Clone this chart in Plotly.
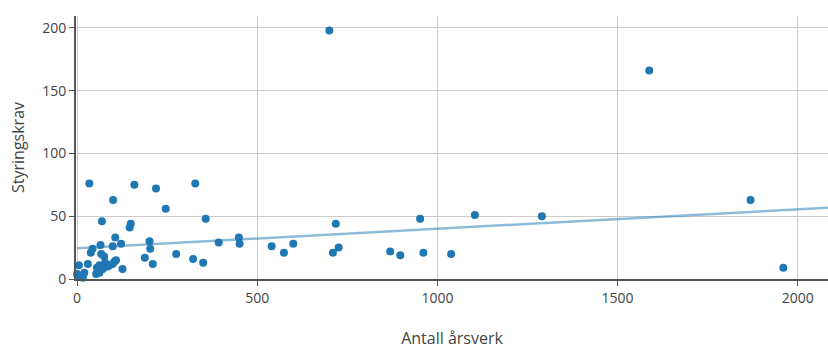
import plotly.graph_objects as go

# Antall årsverk (x) og styringskrav (y) per virksomhet
arsverk = [0, 2, 5, 16, 20, 30, 34, 38, 43, 53, 55, 57, 62, 62, 65, 67, 69, 71, 75, 78,
           85, 90, 99, 99, 100, 104, 106, 108, 122, 126, 146, 149, 159, 188, 201, 203,
           210, 219, 246, 275, 322, 328, 350, 357, 393, 449, 451, 540, 574, 600, 700,
           710, 718, 726, 869, 897, 952, 961, 1038, 1104, 1290, 1588, 1869, 1960]
styringskrav = [4, 3, 11, 1, 5, 12, 76, 21, 24, 4, 9, 6, 5, 11, 27, 20, 46, 8, 18, 13,
                10, 11, 12, 26, 63, 14, 33, 15, 28, 8, 41, 44, 75, 17, 30, 24,
                12, 72, 56, 20, 16, 76, 13, 48, 29, 33, 28, 26, 21, 28, 198,
                21, 44, 25, 22, 19, 48, 21, 20, 51, 50, 166, 63, 9]

# Lineær trendlinje
trend_intercept = 24.5
trend_slope = 0.0155
trend_x = [0, 2100]
trend_y = [trend_intercept + trend_slope * v for v in trend_x]

x_ticks = [0, 500, 1000, 1500, 2000]
y_ticks = [0, 50, 100, 150, 200]

fig = go.Figure()
fig.add_trace(go.Scatter(
    x=trend_x, y=trend_y, mode="lines",
    line=dict(color="rgba(31,119,180,0.5)", width=2.5),
    hoverinfo="skip", showlegend=False,
))
fig.add_trace(go.Scatter(
    x=arsverk, y=styringskrav, mode="markers",
    marker=dict(color="#1f77b4", size=8),
    cliponaxis=False, showlegend=False,
))

axis_common = dict(
    showgrid=True, gridcolor="#cccccc", gridwidth=1,
    zeroline=False, showline=True, linecolor="#555555", linewidth=2,
    ticks="outside", ticklen=5, tickcolor="#555555", tickwidth=1,
    tickfont=dict(size=14, color="#444444"), automargin=False,
)

fig.update_layout(
    width=828, height=349,
    margin=dict(l=76, r=0, t=16, b=70),
    paper_bgcolor="white", plot_bgcolor="white",
    font=dict(family="Open Sans", color="#444444"),
    xaxis=dict(axis_common, range=[-3, 2084], tickvals=x_ticks,
               title=dict(text="Antall årsverk", font=dict(size=16), standoff=34)),
    yaxis=dict(axis_common, range=[0, 209.5], tickvals=y_ticks,
               title=dict(text="Styringskrav", font=dict(size=16), standoff=14)),
)

fig.write_html("out.html")
